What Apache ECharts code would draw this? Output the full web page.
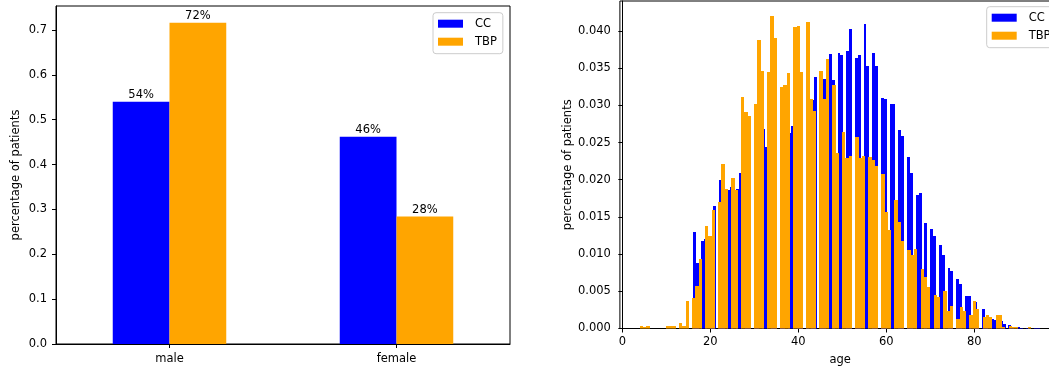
<!DOCTYPE html>
<html><head><meta charset="utf-8">
<script src="https://cdn.jsdelivr.net/npm/echarts@6/dist/echarts.min.js"></script>
<style>
html,body{margin:0;padding:0;overflow:hidden;background:#fff;width:1049px;height:371px}
#c{width:1075px;height:371px}
</style>
</head><body><div id="c"></div><script>
// ---- data ----
const sexCategories = ['male', 'female'];
const sexCC = [0.540, 0.462];
const sexTBP = [0.716, 0.284];

const ages = [4,5,6,7,8,9,10,11,12,13,14,15,16,17,18,19,20,21,22,23,24,25,26,27,28,29,30,31,32,33,34,35,36,37,38,39,40,41,42,43,44,45,46,47,48,49,50,51,52,53,54,55,56,57,58,59,60,61,62,63,64,65,66,67,68,69,70,71,72,73,74,75,76,77,78,79,80,81,82,83,84,85,86,87,88,89,90,91,92,93,94,95];

const tbpAgeDensity = [0.00037,0.00025,0.00037,0,0,0,0.00037,0.00037,0.00037,0.00078,0.0004,0.0037,
  0.0041,0.0057,0.0093,0.0138,0.0124,0.0159,0.0170,0.0221,0.0188,0.0202,0.0186,0.0311,0.0291,0.0286,
  0.0302,0.0388,0.0346,0.0345,0.0420,0.0391,0.0325,0.0327,0.0343,0.0405,0.0407,0.0345,0.0412,0.0309,
  0.0293,0.0346,0.0309,0.0362,0.0327,0.0236,0.0264,0.0229,0.0232,0.0257,0.0229,0.0232,0.0231,0.0227,
  0.0219,0.0208,0.0157,0.0132,0.0173,0.0143,0.0118,0.0106,0.0099,0.0107,0.0080,0.0069,0.0056,0.0045,
  0.0042,0.0050,0.0024,0.0030,0.0013,0.0029,0.0024,0.0018,0.0037,0.0026,0.0016,0.0018,0.0016,0.0018,
  0.0018,0.0002,0.0004,0.0002,0.0002,0,0,0.0002,null,null];

const ccAgeDensity = [null,null,null,null,null,null,null,null,null,null,null,null,
  0.0130,0.0088,0.0118,0.0120,0.0115,0.0165,0.0200,0.0200,0.0186,0.0190,0.0188,0.0209,0.0240,0.0250,
  0.0255,0.0260,0.0268,0.0244,0.0270,0.0280,0.0280,0.0285,0.0263,0.0272,0.0300,0.0310,0.0320,0.0307,
  0.0338,0.0340,0.0335,0.0369,0.0334,0.0371,0.0368,0.0373,0.0403,0.0364,0.0368,0.0410,0.0353,0.0371,
  0.0353,0.0310,0.0309,0.0302,0.0302,0.0267,0.0259,0.0231,0.0209,0.0179,0.0182,0.0142,0.0134,0.0124,
  0.0112,0.0099,0.0081,0.0077,0.0067,0.0060,0.0044,0.0044,0.0035,0.0025,0.0026,0.0016,0.0013,0.0012,
  0.0010,0.0006,0.0005,0.0002,0.0002,0.0001,0.0001,0,0.0001,0.0001];

// histogram binning: [first edge, last edge, number of bins]
const tbpBinning = [4, 93, 120];
const ccBinning = [16, 95, 120];

const ageTicks = [0, 20, 40, 60, 80];
const leftYTicks = [0, 0.1, 0.2, 0.3, 0.4, 0.5, 0.6, 0.7];

// ---- build ----
function binBars(values, binning) {
  const lo = binning[0], hi = binning[1], n = binning[2];
  const w = (hi - lo) / n;
  const out = [];
  ages.forEach((a, i) => {
    const v = values[i];
    if (v == null || v === 0) return;
    let idx = Math.floor((a - lo) / w);
    if (idx >= n) idx = n - 1;
    out.push([lo + idx * w, lo + (idx + 1) * w, v]);
  });
  return out;
}

function histItem(params, api) {
  const p0 = api.coord([api.value(0), api.value(2)]);
  const p1 = api.coord([api.value(1), 0]);
  const x0 = Math.round(p0[0]), x1 = Math.round(p1[0]);
  const y0 = Math.round(p0[1]), y1 = Math.round(p1[1]);
  return {
    type: 'rect',
    shape: { x: x0, y: y0, width: Math.max(1, x1 - x0), height: y1 - y0 },
    style: { fill: api.visual('color') }
  };
}

const FONT = 'DejaVu Sans';
const FS = 11.5;
const txt = { fontFamily: FONT, fontSize: FS, color: '#000' };
const BLUE = '#0000ff', ORANGE = '#ffa500';

const chart = echarts.init(document.getElementById('c'), null, { renderer: 'canvas' });

const legendCommon = {
  orient: 'vertical',
  data: ['CC', 'TBP'],
  icon: 'rect',
  itemWidth: 25,
  itemHeight: 8,
  itemGap: 4,
  backgroundColor: 'rgba(255,255,255,0.8)',
  borderColor: '#cccccc',
  borderWidth: 1,
  borderRadius: 3,
  padding: [4, 6, 5, 5],
  selectedMode: false,
  textStyle: Object.assign({}, txt, { lineHeight: 14, padding: [0, 0, 0, 7] })
};

chart.setOption({
  animation: false,
  backgroundColor: '#fff',
  grid: [
    { left: 56, top: 6, width: 454, height: 338, show: true, borderColor: '#000', borderWidth: 1,
      backgroundColor: 'transparent', containLabel: false, outerBoundsMode: 'none' },
    { left: 619.9, top: 1, width: 440.4, height: 327.5, show: true, borderColor: '#000', borderWidth: 1,
      backgroundColor: 'transparent', containLabel: false, outerBoundsMode: 'none' }
  ],
  legend: [
    Object.assign({}, legendCommon, { left: 433, top: 12.7 }),
    Object.assign({}, legendCommon, { left: 986.7, top: 6.7 })
  ],
  xAxis: [
    {
      gridIndex: 0, type: 'category', data: sexCategories,
      axisLine: { show: true, lineStyle: { color: '#000', width: 1 } },
      axisTick: { show: true, alignWithLabel: true, length: 4, lineStyle: { color: '#000' } },
      axisLabel: Object.assign({}, txt, { margin: 9 }),
      splitLine: { show: false }
    },
    {
      gridIndex: 1, type: 'value', min: -0.55, max: 99.55, splitNumber: 5,
      name: 'age', nameLocation: 'middle', nameGap: 26, nameTextStyle: txt,
      axisLine: { show: true, onZero: false, lineStyle: { color: '#000', width: 1 } },
      axisTick: { show: true, length: 4, lineStyle: { color: '#000' }, customValues: ageTicks },
      axisLabel: Object.assign({}, txt, { margin: 8, customValues: ageTicks,
        formatter: v => (ageTicks.indexOf(v) >= 0 ? String(v) : '') }),
      splitLine: { show: false }
    }
  ],
  yAxis: [
    {
      gridIndex: 0, type: 'value', min: 0, max: 0.7535, interval: 0.1,
      name: 'percentage of patients', nameLocation: 'middle', nameGap: 34, nameTextStyle: txt, nameRotate: 90,
      axisLine: { show: true, lineStyle: { color: '#000', width: 1 } },
      axisTick: { show: true, length: 4, lineStyle: { color: '#000' }, customValues: leftYTicks },
      axisLabel: Object.assign({}, txt, { margin: 9, customValues: leftYTicks,
        formatter: v => v.toFixed(1) }),
      splitLine: { show: false }
    },
    {
      gridIndex: 1, type: 'value', min: 0, max: 0.04403, interval: 0.005,
      name: 'percentage of patients', nameLocation: 'middle', nameGap: 46, nameTextStyle: txt, nameRotate: 90,
      axisLine: { show: true, lineStyle: { color: '#000', width: 1 } },
      axisTick: { show: true, length: 4, lineStyle: { color: '#000' } },
      axisLabel: Object.assign({}, txt, { margin: 9, showMaxLabel: false,
        formatter: v => (Math.abs(v / 0.005 - Math.round(v / 0.005)) < 1e-6 ? v.toFixed(3) : '') }),
      splitLine: { show: false }
    }
  ],
  series: [
    {
      name: 'CC', type: 'bar', xAxisIndex: 0, yAxisIndex: 0, data: sexCC,
      barWidth: 56.75, barGap: '0%', itemStyle: { color: BLUE },
      label: { show: true, position: 'top', distance: 1, fontFamily: FONT, fontSize: FS, color: '#000',
        formatter: p => Math.round(p.value * 100) + '%' }
    },
    {
      name: 'TBP', type: 'bar', xAxisIndex: 0, yAxisIndex: 0, data: sexTBP,
      barWidth: 56.75, barGap: '0%', itemStyle: { color: ORANGE },
      label: { show: true, position: 'top', distance: 1, fontFamily: FONT, fontSize: FS, color: '#000',
        formatter: p => Math.round(p.value * 100) + '%' }
    },
    {
      name: 'CC', type: 'custom', xAxisIndex: 1, yAxisIndex: 1, clip: true,
      renderItem: histItem, encode: { x: [0, 1], y: 2 },
      itemStyle: { color: BLUE }, data: binBars(ccAgeDensity, ccBinning)
    },
    {
      name: 'TBP', type: 'custom', xAxisIndex: 1, yAxisIndex: 1, clip: true,
      renderItem: histItem, encode: { x: [0, 1], y: 2 },
      itemStyle: { color: ORANGE }, data: binBars(tbpAgeDensity, tbpBinning)
    }
  ]
});
</script></body></html>
